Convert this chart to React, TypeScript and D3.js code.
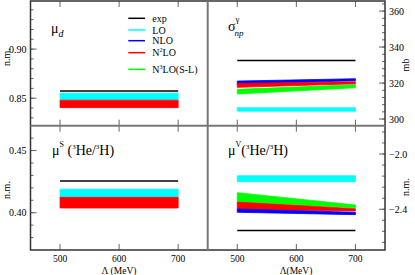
import * as d3 from 'd3';

// cutoff values (MeV) where the bands are evaluated
const cutoffs = [500, 700];
const lambdaTicks = [500, 600, 700];

const seriesNames = ['exp', 'LO', 'NLO', 'N2LO', 'N3LO'];
const seriesColors: Record<string, string> = {
  exp: '#000000',
  LO: '#00ffff',
  NLO: '#0000ff',
  N2LO: '#ff0000',
  N3LO: '#00ff00',
};

// mu_d (n.m.)
const muDExp = 0.8574;
const muDLoLow = [0.8486, 0.8486];
const muDLoHigh = [0.8551, 0.8551];
const muDN2loLow = [0.8404, 0.8404];
const muDN2loHigh = [0.848, 0.848];

// sigma_np (mb)
const sigExp = 332.5;
const sigLoLow = [304.4, 304.4];
const sigLoHigh = [306.3, 306.3];
const sigN3loLow = [313.9, 317.4];
const sigN3loHigh = [316.5, 319.1];
const sigNloLow = [319.3, 321.3];
const sigNloHigh = [321.1, 322.4];
const sigN2loLow = [317.6, 319.6];
const sigN2loHigh = [319.8, 320.7];

// mu^S (n.m.)
const muSExp = 0.4256;
const muSLoLow = [0.4129, 0.4129];
const muSLoHigh = [0.4189, 0.4189];
const muSN2loLow = [0.4038, 0.4038];
const muSN2loHigh = [0.4124, 0.4124];

// mu^V (n.m.)
const muVExp = -2.553;
const muVLoLow = [-2.2, -2.2];
const muVLoHigh = [-2.157, -2.157];
const muVN3loLow = [-2.345, -2.389];
const muVN3loHigh = [-2.28, -2.369];
const muVN2loLow = [-2.4, -2.412];
const muVN2loHigh = [-2.348, -2.396];
const muVNloLow = [-2.422, -2.439];
const muVNloHigh = [-2.398, -2.422];

const topLeftTicks = [0.85, 0.9];
const topRightTicks = [300, 320, 340, 360];
const botLeftTicks = [0.4, 0.45];
const botRightTicks = [-2.4, -2.0];

const X0 = 30.5, XM = 207.7, X1 = 385;
const Y0 = 1, YM = 125.7, Y1 = 250;
const serif = '"Liberation Serif", "DejaVu Serif", serif';

type Band = { name: string; low: number[]; high: number[] };

function Panel(props: {
  x0: number; x1: number; y0: number; y1: number;
  domain: [number, number];
  major: number[]; minor: number[]; fmt: (v: number) => string;
  side: 'left' | 'right';
  exp: number; bands: Band[];
  showXLabels: boolean;
}) {
  const { x0, x1, y0, y1, domain, major, minor, fmt, side, exp, bands, showXLabels } = props;
  const x = d3.scaleLinear().domain([450, 750]).range([x0, x1]);
  const y = d3.scaleLinear().domain(domain).range([y1, y0]);
  const ax = side === 'left' ? x0 : x1;
  const dir = side === 'left' ? 1 : -1;
  const area = d3.area<number>()
    .x((_, i) => x(cutoffs[i]));
  return (
    <g>
      {bands.map((b) => (
        <path key={b.name}
          d={area.y0((_, i) => y(b.low[i])).y1((_, i) => y(b.high[i]))(cutoffs) || ''}
          fill={seriesColors[b.name]} stroke={seriesColors[b.name]} strokeWidth={0.8} />
      ))}
      <line x1={x(500)} x2={x(700)} y1={y(exp)} y2={y(exp)} stroke="#000" strokeWidth={1.5} />
      {minor.map((v) => (
        <line key={'m' + v} x1={ax} x2={ax + dir * 3} y1={y(v)} y2={y(v)} stroke="#666" strokeWidth={1} />
      ))}
      {major.map((v) => (
        <g key={'M' + v}>
          <line x1={ax} x2={ax + dir * 6} y1={y(v)} y2={y(v)} stroke="#666" strokeWidth={1} />
          <text x={side === 'left' ? ax - 4 : ax + 4} y={y(v) + 3.5} fontSize={10} fontFamily={serif}
            textAnchor={side === 'left' ? 'end' : 'start'} fill="#000">{fmt(v)}</text>
        </g>
      ))}
      {lambdaTicks.map((v) => (
        <g key={'x' + v}>
          <line x1={x(v)} x2={x(v)} y1={y1} y2={y1 - 6} stroke="#666" strokeWidth={1} />
          <line x1={x(v)} x2={x(v)} y1={y0} y2={y0 + 6} stroke="#666" strokeWidth={1} />
          {showXLabels && (
            <text x={x(v)} y={y1 + 11.5} fontSize={9.5} fontFamily={serif} textAnchor="middle">{v}</text>
          )}
        </g>
      ))}
    </g>
  );
}

export default function App() {
  const W = 415, H = 275;
  const legendY = [18.3, 30, 40.7, 52.7, 69.3];
  return (
    <svg width={W} height={H} style={{ position: 'absolute', left: 0, top: 0, background: '#fff' }}
      fontFamily={serif}>
      <rect width={W} height={H} fill="#fff" />
      <Panel x0={X0} x1={XM} y0={Y0} y1={YM} domain={[0.822, 0.949]}
        major={topLeftTicks} minor={d3.range(0.83, 0.945, 0.01)} fmt={d3.format('.2f')}
        side="left" exp={muDExp} showXLabels={false}
        bands={[{ name: 'LO', low: muDLoLow, high: muDLoHigh }, { name: 'N2LO', low: muDN2loLow, high: muDN2loHigh }]} />
      <Panel x0={XM} x1={X1} y0={Y0} y1={YM} domain={[296.3, 365.6]}
        major={topRightTicks} minor={d3.range(300, 365, 4)} fmt={d3.format('d')}
        side="right" exp={sigExp} showXLabels={false}
        bands={[
          { name: 'LO', low: sigLoLow, high: sigLoHigh },
          { name: 'N3LO', low: sigN3loLow, high: sigN3loHigh },
          { name: 'NLO', low: sigNloLow, high: sigNloHigh },
          { name: 'N2LO', low: sigN2loLow, high: sigN2loHigh },
        ]} />
      <Panel x0={X0} x1={XM} y0={YM} y1={Y1} domain={[0.37, 0.47]}
        major={botLeftTicks} minor={d3.range(0.38, 0.465, 0.01)} fmt={d3.format('.2f')}
        side="left" exp={muSExp} showXLabels={true}
        bands={[{ name: 'LO', low: muSLoLow, high: muSLoHigh }, { name: 'N2LO', low: muSN2loLow, high: muSN2loHigh }]} />
      <Panel x0={XM} x1={X1} y0={YM} y1={Y1} domain={[-2.695, -1.795]}
        major={botRightTicks} minor={d3.range(-2.64, -1.8, 0.08)} fmt={d3.format('.1f')}
        side="right" exp={muVExp} showXLabels={true}
        bands={[
          { name: 'LO', low: muVLoLow, high: muVLoHigh },
          { name: 'N3LO', low: muVN3loLow, high: muVN3loHigh },
          { name: 'N2LO', low: muVN2loLow, high: muVN2loHigh },
          { name: 'NLO', low: muVNloLow, high: muVNloHigh },
        ]} />

      {/* frame and dividers */}
      <rect x={X0} y={Y0} width={X1 - X0} height={Y1 - Y0} fill="none" stroke="#333" strokeWidth={1.5} />
      <line x1={XM} x2={XM} y1={Y0} y2={Y1} stroke="#777" strokeWidth={2} />
      <line x1={X0} x2={X1} y1={YM} y2={YM} stroke="#777" strokeWidth={2} />

      {/* legend */}
      {seriesNames.map((n, i) => (
        <g key={n}>
          <line x1={128.3} x2={145} y1={legendY[i]} y2={legendY[i]} stroke={seriesColors[n]} strokeWidth={1.5} />
          <text x={152.3} y={legendY[i] + 3.5} fontSize={10}>
            {n === 'N2LO' ? <>N<tspan dy={-4} fontSize={6}>2</tspan><tspan dy={4}>LO</tspan></>
              : n === 'N3LO' ? <>N<tspan dy={-4} fontSize={6}>3</tspan><tspan dy={4}>LO(S-L)</tspan></>
                : n}
          </text>
        </g>
      ))}

      {/* panel labels */}
      <text x={51} y={33} fontSize={14}>μ<tspan dy={4} fontSize={10} fontStyle="italic">d</tspan></text>
      <text x={228} y={31} fontSize={14}>σ<tspan dy={-9} fontSize={9}>γ</tspan>
        <tspan dx={-5} dy={14} fontSize={9} fontStyle="italic">np</tspan></text>
      <text x={52} y={155} fontSize={14}>μ<tspan dy={-8} fontSize={8}>S</tspan>
        <tspan dy={8}> (</tspan><tspan dy={-6} fontSize={7}>3</tspan><tspan dy={6}>He/</tspan>
        <tspan dy={-6} fontSize={7}>3</tspan><tspan dy={6}>H)</tspan></text>
      <text x={228} y={155} fontSize={14}>μ<tspan dy={-8} fontSize={8}>V</tspan>
        <tspan dy={8}>(</tspan><tspan dy={-6} fontSize={7}>3</tspan><tspan dy={6}>He/</tspan>
        <tspan dy={-6} fontSize={7}>3</tspan><tspan dy={6}>H)</tspan></text>

      {/* axis titles */}
      <text transform="translate(10,57) rotate(-90)" fontSize={10} textAnchor="middle">n.m.</text>
      <text transform="translate(10,190) rotate(-90)" fontSize={10} textAnchor="middle">n.m.</text>
      <text transform="translate(409,65) rotate(-90)" fontSize={10} textAnchor="middle">mb</text>
      <text transform="translate(409,187) rotate(-90)" fontSize={10} textAnchor="middle">n.m.</text>
      <text x={119} y={273.5} fontSize={9.5} textAnchor="middle">Λ (MeV)</text>
      <text x={296} y={273.5} fontSize={9.5} textAnchor="middle">Λ(MeV)</text>
    </svg>
  );
}
